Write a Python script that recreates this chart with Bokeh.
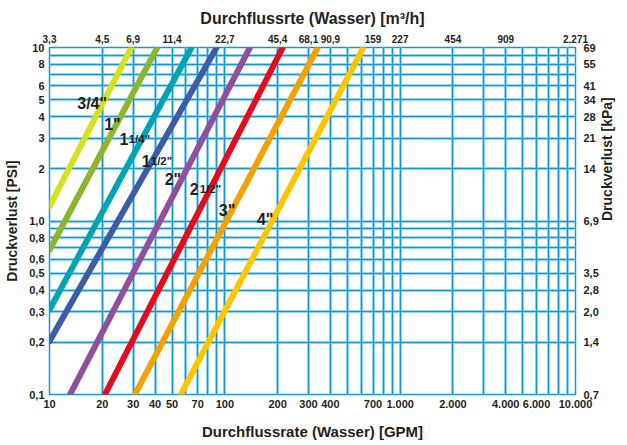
import math
from bokeh.plotting import figure
from bokeh.models import Range1d, LogAxis, FixedTicker, Grid
from bokeh.core.properties import value
from bokeh.embed import file_html
from bokeh.resources import INLINE

# ---------------- data ----------------
sizes = ['3/4"', '1"', '1 1/4"', '1 1/2"', '2"', '2 1/2"', '3"', '4"']
colors = ["#d6e01c", "#8cb42c", "#00a3b4", "#3c5ca8", "#8f4f9d", "#e30b1c", "#f5a100", "#ffc500"]
# flow rate (GPM) and pressure loss (PSI) at both ends of each line
gpm_start = [10, 10, 10, 10, 13.1, 20.7, 30.7, 56.1]
psi_start = [1.21, 0.68, 0.308, 0.203, 0.1, 0.1, 0.1, 0.1]
gpm_end = [29.3, 41.2, 64.6, 89.8, 139, 214, 339, 617]
psi_end = [10, 10, 10, 10, 10, 10, 10, 10]

# bottom axis (GPM)
gpm_ticks = [10, 20, 30, 40, 50, 70, 100, 200, 300, 400, 700, 1000, 2000, 4000, 6000, 10000]
gpm_labels = ["10", "20", "30", "40", "50", "70", "100", "200", "300", "400", "700",
              "1.000", "2.000", "4.000", "6.000", "10.000"]
# top axis (m3/h)
m3h_ticks = [10, 20, 30, 50, 100, 200, 300, 400, 700, 1000, 2000, 4000, 10000]
m3h_labels = ["3,3", "4,5", "6,9", "11,4", "22,7", "45,4", "68,1", "90,9", "159", "227",
              "454", "909", "2.271"]
# left axis (PSI)
psi_ticks = [0.1, 0.2, 0.3, 0.4, 0.5, 0.6, 0.8, 1, 2, 3, 4, 5, 6, 8, 10]
psi_labels = ["0,1", "0,2", "0,3", "0,4", "0,5", "0,6", "0,8", "1,0", "2", "3", "4", "5",
              "6", "8", "10"]
# right axis (kPa)
kpa_ticks = [0.1, 0.2, 0.3, 0.4, 0.5, 1, 2, 3, 4, 5, 6, 8, 10]
kpa_labels = ["0,7", "1,4", "2,0", "2,8", "3,5", "6,9", "14", "21", "28", "34", "41", "55", "69"]

# ---------------- label placement ----------------
big_text = ['3/4"', '1"', '1', '1', '2"', '2', '3"', '4"']
big_x = [14.4, 20.5, 25.1, 33.6, 45.4, 63.1, 92.4, 152.4]
big_y = [4.75, 3.6, 2.95, 2.23, 1.735, 1.519, 1.142, 1.016]
small_text = ['1/4"', '1/2"', '1/2"']
small_x = [28.3, 37.8, 71.9]
small_y = [2.95, 2.23, 1.519]

FONT = "Liberation Sans"
TXT = "#231f20"
GRID_DARK = "#1597d4"
GRID_LIGHT = "#8fd4f2"

p = figure(width=627, height=445, x_axis_type="log", y_axis_type="log",
           x_range=Range1d(10, 10000), y_range=Range1d(0.1, 10),
           output_backend="svg", toolbar_location=None,
           min_border_left=49, min_border_right=52, min_border_top=47, min_border_bottom=51)
p.background_fill_color = "white"
p.border_fill_color = "white"
p.outline_line_color = GRID_DARK
p.outline_line_width = 1.5

grid_x = [m * d for d in (10, 100, 1000) for m in range(1, 10)] + [10000]
grid_y = [m * d for d in (0.1, 1) for m in range(1, 10)] + [10]

# light bands (default grids) + dark thin lines on top
p.xgrid.ticker = FixedTicker(ticks=grid_x)
p.ygrid.ticker = FixedTicker(ticks=grid_y)
p.xgrid.grid_line_color = GRID_LIGHT
p.ygrid.grid_line_color = GRID_LIGHT
p.xgrid.grid_line_width = 3
p.ygrid.grid_line_width = 3
p.add_layout(Grid(dimension=0, ticker=FixedTicker(ticks=grid_x),
                  grid_line_color=GRID_DARK, grid_line_width=1.1))
p.add_layout(Grid(dimension=1, ticker=FixedTicker(ticks=grid_y),
                  grid_line_color=GRID_DARK, grid_line_width=1.1))


def style_axis(ax, ticks, labels, label, standoff, label_standoff, tick_size, label_size):
    ax.ticker = FixedTicker(ticks=ticks)
    ax.major_label_overrides = {t: l for t, l in zip(ticks, labels)}
    ax.axis_label = label
    ax.axis_line_color = None
    ax.major_tick_line_color = None
    ax.minor_tick_line_color = None
    ax.major_tick_out = 0
    ax.major_tick_in = 0
    ax.minor_tick_out = 0
    ax.minor_tick_in = 0
    ax.major_label_standoff = standoff
    ax.axis_label_standoff = label_standoff
    ax.major_label_text_font = FONT
    ax.major_label_text_font_style = "bold"
    ax.major_label_text_font_size = tick_size
    ax.major_label_text_color = TXT
    ax.axis_label_text_font = FONT
    ax.axis_label_text_font_style = "bold"
    ax.axis_label_text_font_size = label_size
    ax.axis_label_text_color = TXT


style_axis(p.xaxis[0], gpm_ticks, gpm_labels, "Durchflussrate (Wasser) [GPM]", 5, 12, "11px", "15px")
style_axis(p.yaxis[0], psi_ticks, psi_labels, "Druckverlust [PSI]", 5, 6, "11px", "14px")

top = LogAxis()
style_axis(top, m3h_ticks, m3h_labels, "Durchflussrte (Wasser) [m³/h]", 5, 5, "10px", "16px")
p.add_layout(top, "above")

right = LogAxis()
style_axis(right, kpa_ticks, kpa_labels, "Druckverlust [kPa]", 8, 5, "11px", "14px")
right.axis_label_orientation = math.pi / 2
p.add_layout(right, "right")

for i in range(len(sizes)):
    p.line(x=[gpm_start[i], gpm_end[i]], y=[psi_start[i], psi_end[i]],
           line_color=colors[i], line_width=6, line_cap="round")

p.text(x=big_x, y=big_y, text=big_text, text_font=value(FONT), text_font_style="bold",
       text_font_size="16px", text_color=TXT, text_baseline="alphabetic", text_align="left")
p.text(x=small_x, y=small_y, text=small_text, text_font=value(FONT), text_font_style="bold",
       text_font_size="11.5px", text_color=TXT, text_baseline="alphabetic", text_align="left")

open("out.html", "w").write(file_html(p, INLINE))
